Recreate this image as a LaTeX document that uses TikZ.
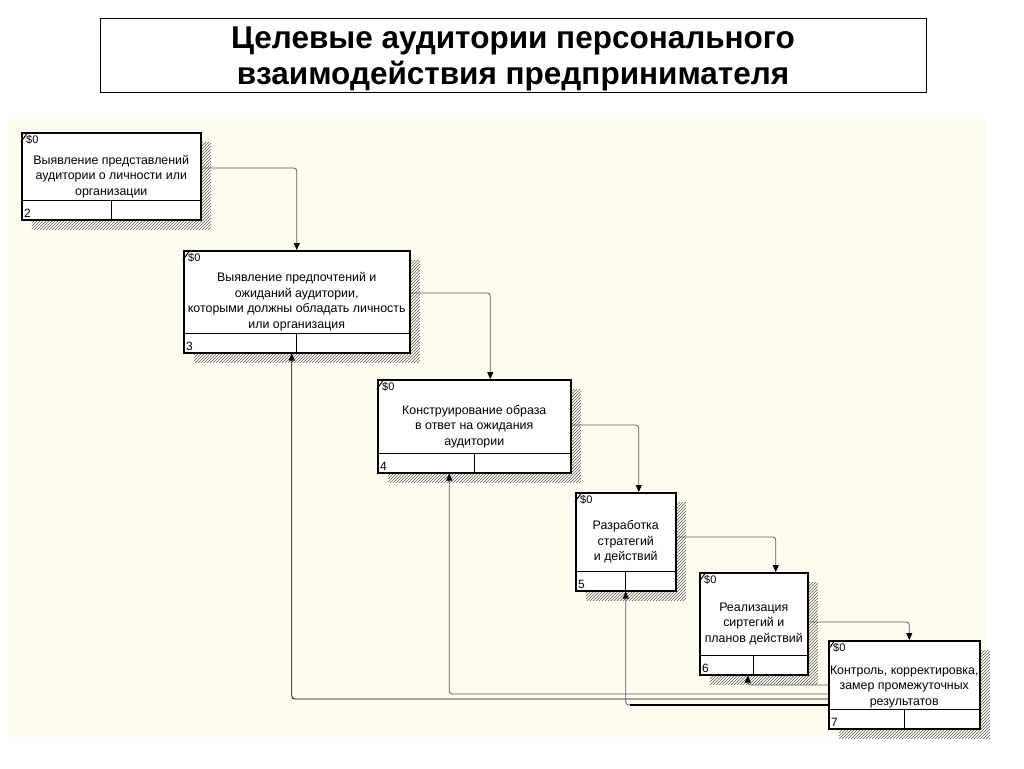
\documentclass[tikz,border=0pt]{standalone}
\usepackage{fontspec}
\setmainfont{Liberation Sans}
\usepackage{xcolor}
\usetikzlibrary{arrows.meta, patterns, shadows}
\definecolor{cream}{HTML}{FFFCEF}
\definecolor{wire}{HTML}{5A5A5A}
\definecolor{hatch}{HTML}{5E5E5E}

\begin{document}
\begin{tikzpicture}[x=1pt, y=-1pt,
  titlebox/.style={rectangle, draw=black, line width=0.8pt, align=center,
    minimum width=826pt, minimum height=74pt, inner sep=0pt,
    font=\bfseries\fontsize{31.5}{36}\selectfont},
  actbox/.style={rectangle, draw=black, line width=1.5pt, fill=white,
    anchor=north west, inner sep=0pt,
    general shadow={shadow xshift=10pt, shadow yshift=-10pt,
      pattern=north east lines, pattern color=hatch}},
  boxtext/.style={align=center, inner sep=0pt, font=\fontsize{12.4}{15.5}\selectfont},
  tag/.style={anchor=north west, inner sep=0pt, font=\fontsize{11}{13}\selectfont},
  num/.style={anchor=south west, inner sep=3pt, font=\fontsize{12}{14}\selectfont},
  cell/.style={draw=black, line width=1pt},
  tick/.style={draw=black, line width=1pt},
  flow/.style={draw=wire, line width=0.8pt, rounded corners=3pt,
    -{Triangle[length=7pt, width=6pt, color=black]}},
  back/.style={draw=black, line width=0.8pt, rounded corners=3pt,
    -{Triangle[length=7pt, width=6pt, color=black]}}
]
\useasboundingbox (0,0) rectangle (1024,768);
\fill[cream] (8,119) rectangle (986,737);

\node[titlebox] (title) at (513,55) {};
\node[font=\bfseries\fontsize{31.5}{36}\selectfont, align=center, inner sep=0pt] (tt) at ([yshift=-4pt]title.center) {Целевые аудитории персонального\\взаимодействия предпринимателя};

% boxes
\node[actbox, minimum width=179pt, minimum height=87pt] (b2) at (21,132) {};
\node[actbox, minimum width=226pt, minimum height=102pt] (b3) at (183,250) {};
\node[actbox, minimum width=193pt, minimum height=93pt] (b4) at (377,379) {};
\node[actbox, minimum width=100pt, minimum height=98pt] (b5) at (575,492) {};
\node[actbox, minimum width=108pt, minimum height=102pt] (b6) at (699,572) {};
\node[actbox, minimum width=151pt, minimum height=88pt] (b7) at (828,640) {};

\node[boxtext] (t2) at (b2) {Выявление представлений\\аудитории о личности или\\организации};
\node[boxtext] (t3) at (b3) {Выявление предпочтений и\\ожиданий аудитории,\\которыми должны обладать личность\\или организация};
\node[boxtext] (t4) at (b4) {Конструирование образа\\в ответ на ожидания\\аудитории};
\node[boxtext] (t5) at (b5) {Разработка\\стратегий\\и действий};
\node[boxtext] (t6) at (b6) {Реализация\\сиртегий и\\планов действий};
\node[boxtext] (t7) at ([yshift=-2pt]b7.center) {Контроль, корректировка,\\замер промежуточных\\результатов};

% bottom cells
\draw[cell] ([yshift=20pt]b2.south west) -- ([yshift=20pt]b2.south east);
\draw[cell] (b2.south) -- ([yshift=20pt]b2.south);
\draw[cell] ([yshift=20pt]b3.south west) -- ([yshift=20pt]b3.south east);
\draw[cell] (b3.south) -- ([yshift=20pt]b3.south);
\draw[cell] ([yshift=20pt]b4.south west) -- ([yshift=20pt]b4.south east);
\draw[cell] (b4.south) -- ([yshift=20pt]b4.south);
\draw[cell] ([yshift=20pt]b5.south west) -- ([yshift=20pt]b5.south east);
\draw[cell] (b5.south) -- ([yshift=20pt]b5.south);
\draw[cell] ([yshift=20pt]b6.south west) -- ([yshift=20pt]b6.south east);
\draw[cell] (b6.south) -- ([yshift=20pt]b6.south);
\draw[cell] ([yshift=20pt]b7.south west) -- ([yshift=20pt]b7.south east);
\draw[cell] (b7.south) -- ([yshift=20pt]b7.south);

\node[num] (n2) at (b2.south west) {2};
\node[num] (n3) at (b3.south west) {3};
\node[num] (n4) at (b4.south west) {4};
\node[num] (n5) at (b5.south west) {5};
\node[num] (n6) at (b6.south west) {6};
\node[num] (n7) at (b7.south west) {7};

% corner marks
\node[tag] (s2) at ([shift={(5pt,-3pt)}]b2.north west) {\$0};
\node[tag] (s3) at ([shift={(5pt,-3pt)}]b3.north west) {\$0};
\node[tag] (s4) at ([shift={(5pt,-3pt)}]b4.north west) {\$0};
\node[tag] (s5) at ([shift={(5pt,-3pt)}]b5.north west) {\$0};
\node[tag] (s6) at ([shift={(5pt,-3pt)}]b6.north west) {\$0};
\node[tag] (s7) at ([shift={(5pt,-3pt)}]b7.north west) {\$0};
\draw[tick] ([yshift=-10pt]b2.north west) -- ([xshift=7pt]b2.north west);
\draw[tick] ([yshift=-10pt]b3.north west) -- ([xshift=7pt]b3.north west);
\draw[tick] ([yshift=-10pt]b4.north west) -- ([xshift=7pt]b4.north west);
\draw[tick] ([yshift=-10pt]b5.north west) -- ([xshift=7pt]b5.north west);
\draw[tick] ([yshift=-10pt]b6.north west) -- ([xshift=7pt]b6.north west);
\draw[tick] ([yshift=-10pt]b7.north west) -- ([xshift=7pt]b7.north west);

% forward arrows
\draw[flow] ([yshift=-36pt]b2.north east) -| (b3.north);
\draw[flow] ([yshift=-43pt]b3.north east) -| ([xshift=16pt]b4.north);
\draw[flow] ([yshift=-46pt]b4.north east) -| ([xshift=13pt]b5.north);
\draw[flow] ([yshift=-45pt]b5.north east) -| ([xshift=22pt]b6.north);
\draw[flow] ([yshift=-50pt]b6.north east) -| ([xshift=5pt]b7.north);

% return arrows
\draw[back, draw=wire] ([yshift=-45pt]b7.north west) -| ([xshift=-6pt]b6.south);
\draw[back, draw=wire] ([yshift=-54pt]b7.north west) -| ([xshift=-25pt]b4.south);
\draw[back] ([yshift=-59pt]b7.north west) -| ([xshift=-5pt]b3.south);
\draw[back, draw=wire] ([yshift=-65pt]b7.north west) -| (b5.south);
\coordinate (k5) at (630,705);
\draw[draw=black, line width=2pt] ([yshift=-65pt]b7.north west) -- (k5);
\end{tikzpicture}
\end{document}
